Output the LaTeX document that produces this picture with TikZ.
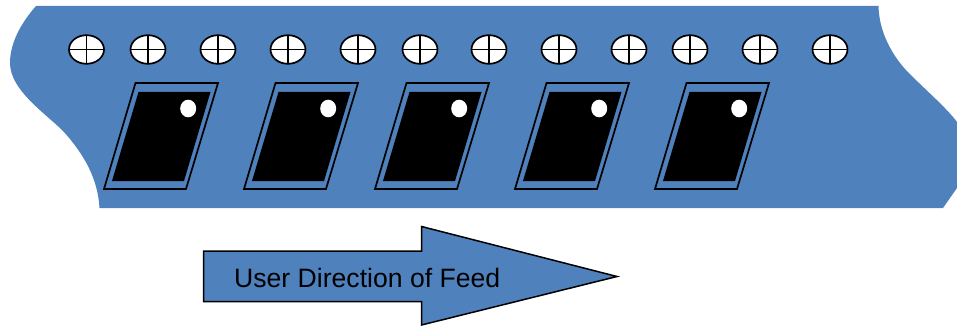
\documentclass[tikz,border=0pt]{standalone}
\usepackage{fontspec}
\setmainfont{Liberation Sans}
\definecolor{tapeblue}{RGB}{79,129,189}
\tikzset{
  tapebody/.style={fill=tapeblue,draw=none},
  holeshape/.style={draw=black,line width=1.7pt,fill=white},
  framebox/.style={draw=black,line width=1.7pt,fill=tapeblue},
  pocketbox/.style={fill=black,draw=none},
  dotmark/.style={fill=white,draw=none},
  arrowshape/.style={draw=black,line width=1.5pt,fill=tapeblue,line join=miter},
}
\begin{document}
\begin{tikzpicture}[x=1pt,y=-1pt]
\useasboundingbox (0,0) rectangle (957,326);
\fill[tapebody] (36,6) -- (878.5,6)
  .. controls (879,30) and (890,52) .. (905,69)
  .. controls (922,87) and (945,106) .. (957,122)
  -- (957,188) -- (943,208) -- (99.5,208)
  .. controls (98,180) and (85,155) .. (63,131)
  .. controls (45,113) and (10,90) .. (10,63)
  .. controls (10,42) and (22,22) .. (36,6) -- cycle;
\foreach \hx in {86.5,148,218,288,358,420,489,559,629,690,760,830}{
  \draw[holeshape] (\hx,49.5) ellipse [x radius=17.5,y radius=14.3];
  \draw[line width=1.4pt] (\hx-17.5,49.5) -- (\hx+17.5,49.5) (\hx,35) -- (\hx,64);
}
\foreach \fx in {0,140,271,411,551}{
  \begin{scope}[xshift=\fx pt]
    \draw[framebox] (135.5,83) -- (218,83) -- (186,189) -- (104,189) -- cycle;
    \fill[pocketbox] (138.5,92) -- (210.5,92) -- (184,181) -- (112,181) -- cycle;
    \fill[dotmark] (188.2,108.5) ellipse [x radius=8,y radius=8.8];
  \end{scope}
}
\draw[arrowshape] (203.5,251) -- (421.5,251) -- (421.5,226.5) -- (617,276.5) -- (421.5,325) -- (421.5,301.5) -- (203.5,301.5) -- cycle;
\node[anchor=west,inner sep=0pt,font=\fontsize{26.6}{30}\selectfont] (lbl) at (234,278) {User Direction of Feed};
\end{tikzpicture}
\end{document}
